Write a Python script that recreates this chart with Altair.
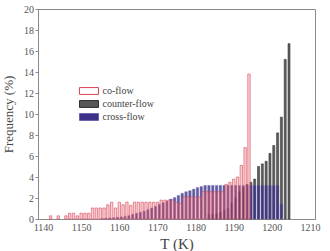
import altair as alt
import pandas as pd

series = ["co-flow", "counter-flow", "cross-flow"]

# co-flow: bin centres (K) and frequency (%)
co_T = list(range(1142, 1195))
co_freq = [0.3, 0, 0.3, 0, 0.3, 0.55, 0.55, 0.3, 0.55, 0.55, 0.55,
           1.05, 1.05, 1.05, 1.05, 1.35, 1.6, 1.05, 1.6, 1.35, 1.6, 1.3, 1.6,
           1.6, 1.6, 1.6, 1.6, 1.6, 1.6,
           1.8, 1.8, 1.8, 1.8, 1.6, 1.5,
           2.1, 2.1, 2.1, 2.1, 2.1,
           2.6, 2.6, 2.6, 2.6, 2.6, 2.6,
           3.3, 3.5, 3.8, 4.0, 5.1, 6.8, 13.8]

# counter-flow
counter_T = [1183.5 + i for i in range(22)]
counter_freq = [0.4, 0.45, 0.5, 0.6, 0.8, 1.0, 1.5, 2.0, 2.6, 3.0, 3.3,
                3.5, 3.8, 5.0, 5.25, 5.5, 6.25, 7.0, 8.2, 9.7, 15.2, 16.7]

# cross-flow
cross_T = [1155.5 + i for i in range(48)]
cross_freq = [0.05, 0.08, 0.1, 0.13, 0.17, 0.2, 0.25, 0.32, 0.45, 0.55,
              0.65, 0.75, 0.9, 1.05, 1.2, 1.4, 1.55, 1.7, 1.9, 2.05,
              2.25, 2.45, 2.6, 2.7, 2.85, 3.0, 3.1] + [3.2] * 20 + [1.45]

x_ticks = list(range(1140, 1211, 10))
y_ticks = list(range(0, 21, 2))

rows = []
for name, ts, fs in [(series[0], co_T, co_freq),
                     (series[1], counter_T, counter_freq),
                     (series[2], cross_T, cross_freq)]:
    for t, f in zip(ts, fs):
        if f > 0:
            rows.append({"series": name, "T": t, "freq": f})
df = pd.DataFrame(rows)

FONT = "Liberation Serif, Times New Roman, serif"

fill_scale = alt.Scale(domain=series, range=["#ffffff", "#565656", "#3b3186"])
stroke_scale = alt.Scale(domain=series, range=["#d94455", "#2e2e2e", "#6a60b0"])

# wide, flat swatch: the path spans 5 units across and 1.8 units high
legend = alt.Legend(
    title=None, orient="none", legendX=46, legendY=77,
    symbolType="M-2.5,-0.9H2.5V0.9H-2.5Z", symbolSize=58,
    symbolStrokeWidth=1, symbolOpacity=1,
    labelFont=FONT, labelFontSize=10, labelColor="#444",
    labelOffset=8.5, rowPadding=1, padding=0,
)

x_enc = alt.X(
    "T:Q",
    scale=alt.Scale(domain=[1140, 1210], nice=False, zero=False),
    axis=alt.Axis(values=x_ticks, title="T (K)", format="d",
                  ticks=False, labelPadding=3, titlePadding=4,
                  labelFont=FONT, labelFontSize=10, labelColor="#555",
                  titleFont=FONT, titleColor="#444",
                  titleFontSize=15, titleFontWeight="normal"),
)
y_enc = alt.Y(
    "freq:Q",
    scale=alt.Scale(domain=[0, 20], nice=False),
    axis=alt.Axis(values=y_ticks, title="Frequency (%)", tickSize=3,
                  labelPadding=1.5, titlePadding=8,
                  labelFont=FONT, labelFontSize=10, labelColor="#555",
                  titleFont=FONT, titleColor="#444",
                  titleFontSize=13, titleFontWeight="normal"),
)

base = alt.Chart(df)

counter = base.transform_filter(alt.datum.series == "counter-flow").mark_bar(
    size=2, strokeWidth=0.6, opacity=0.95
).encode(
    x=x_enc, y=y_enc,
    fill=alt.Fill("series:N", scale=fill_scale, legend=legend),
    stroke=alt.Stroke("series:N", scale=stroke_scale, legend=legend),
)

cross = base.transform_filter(alt.datum.series == "cross-flow").mark_bar(
    size=2.6, strokeWidth=0.4, opacity=0.8
).encode(
    x=x_enc, y=y_enc,
    fill=alt.Fill("series:N", scale=fill_scale, legend=legend),
    stroke=alt.Stroke("series:N", scale=stroke_scale, legend=legend),
)

co = base.transform_filter(alt.datum.series == "co-flow").mark_bar(
    size=2.4, strokeWidth=0.6, fill="#f3a6af", fillOpacity=0.5
).encode(
    x=x_enc, y=y_enc,
    stroke=alt.Stroke("series:N", scale=stroke_scale, legend=legend),
)

chart = alt.layer(counter, cross, co).properties(
    width=277, height=210,
    autosize=alt.AutoSizeParams(type="none"),
    padding={"left": 38, "top": 9, "right": 15, "bottom": 32},
    background="white",
).configure(
    font=FONT
).configure_view(
    stroke="#8a8a8a", strokeWidth=1
).configure_axis(
    labelFont=FONT, titleFont=FONT,
    domainColor="#8a8a8a", tickColor="#8a8a8a", grid=False,
).configure_legend(
    labelFont=FONT
)

chart.save("out.html", embed_options={"renderer": "svg", "actions": False})
